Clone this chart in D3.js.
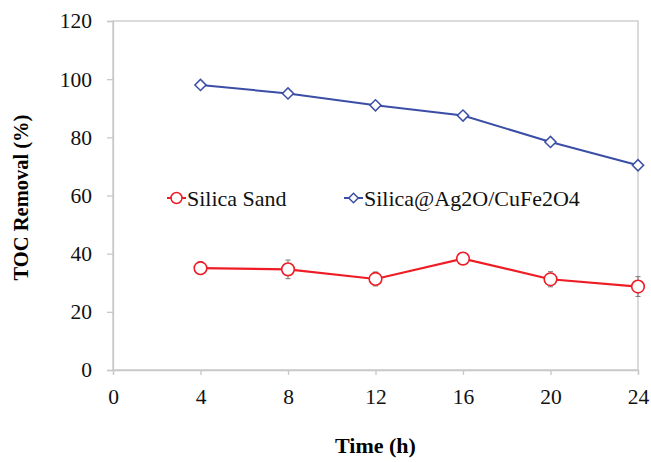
<!DOCTYPE html>
<html>
<head>
<meta charset="utf-8">
<script src="https://cdn.jsdelivr.net/npm/d3@7"></script>
<style>
  body { margin: 0; background: #fff; }
  text { font-family: "Liberation Serif", "Times New Roman", serif; }
</style>
</head>
<body>
<div id="chart"></div>
<script>
// data
const times = [4, 8, 12, 16, 20, 24];
const sandValues = [35.0, 34.6, 31.3, 38.3, 31.2, 28.7];
const sandErrors = [2.2, 3.2, 2.4, 1.0, 2.6, 3.4];
const compositeValues = [98.0, 95.1, 91.0, 87.5, 78.4, 70.4];
const xTicks = [0, 4, 8, 12, 16, 20, 24];
const yTicks = [0, 20, 40, 60, 80, 100, 120];
const seriesNames = ["Silica Sand", "Silica@Ag2O/CuFe2O4"];

const width = 651, height = 462;
const margin = { top: 21, right: 13, bottom: 92, left: 113 };
const red = "#ee1c25", blue = "#3b4ea6", gridGrey = "#c8c8c8";

const svg = d3.select("#chart").append("svg")
  .attr("width", width)
  .attr("height", height);

const x = d3.scaleLinear().domain([0, 24]).range([margin.left, width - margin.right]);
const y = d3.scaleLinear().domain([0, 120]).range([height - margin.bottom, margin.top]);

// Frame
svg.append("rect")
  .attr("x", x(0)).attr("y", y(120))
  .attr("width", x(24) - x(0)).attr("height", y(0) - y(120))
  .attr("fill", "none").attr("stroke", gridGrey).attr("stroke-width", 1.3);

// Axes
const xAxis = svg.append("g")
  .attr("transform", `translate(0,${y(0)})`)
  .call(d3.axisBottom(x).tickValues(xTicks).tickSize(5).tickPadding(14));
const yAxis = svg.append("g")
  .attr("transform", `translate(${x(0)},0)`)
  .call(d3.axisLeft(y).tickValues(yTicks).tickSize(6).tickPadding(15));

[xAxis, yAxis].forEach(a => {
  a.select(".domain").attr("stroke", gridGrey).attr("stroke-width", 1.3);
  a.selectAll(".tick line").attr("stroke", gridGrey).attr("stroke-width", 1.3);
  a.selectAll(".tick text")
    .style("font-family", "'Liberation Serif', serif")
    .style("font-size", "21.5px")
    .attr("fill", "#111");
});

// Axis titles
svg.append("text")
  .attr("x", (x(0) + x(24)) / 2).attr("y", 453)
  .attr("text-anchor", "middle")
  .style("font-size", "22px").style("font-weight", "bold")
  .text("Time (h)");
svg.append("text")
  .attr("transform", "translate(28,197.5) rotate(-90)")
  .attr("text-anchor", "middle")
  .style("font-size", "20.5px").style("font-weight", "bold")
  .text("TOC Removal (%)");

const line = d3.line().x(d => x(d[0])).y(d => y(d[1]));

// Composite series
const comp = times.map((t, i) => [t, compositeValues[i]]);
svg.append("path").attr("d", line(comp))
  .attr("fill", "none").attr("stroke", blue).attr("stroke-width", 2);
svg.selectAll(".comp-pt").data(comp).enter().append("path")
  .attr("transform", d => `translate(${x(d[0])},${y(d[1])}) rotate(45)`)
  .attr("d", d3.symbol().type(d3.symbolSquare).size(62)())
  .attr("fill", "#fff").attr("stroke", blue).attr("stroke-width", 1.5);

// Sand series with error bars
const sand = times.map((t, i) => [t, sandValues[i], sandErrors[i]]);
const eb = svg.selectAll(".err").data(sand).enter().append("g").attr("class", "err");
eb.append("line")
  .attr("x1", d => x(d[0])).attr("x2", d => x(d[0]))
  .attr("y1", d => y(d[1] - d[2])).attr("y2", d => y(d[1] + d[2]))
  .attr("stroke", "#777").attr("stroke-width", 1);
["-", "+"].forEach(s => {
  eb.append("line")
    .attr("x1", d => x(d[0]) - 2.5).attr("x2", d => x(d[0]) + 2.5)
    .attr("y1", d => y(s === "+" ? d[1] + d[2] : d[1] - d[2]))
    .attr("y2", d => y(s === "+" ? d[1] + d[2] : d[1] - d[2]))
    .attr("stroke", "#777").attr("stroke-width", 1);
});
svg.append("path").attr("d", line(sand))
  .attr("fill", "none").attr("stroke", red).attr("stroke-width", 2.2);
svg.selectAll(".sand-pt").data(sand).enter().append("circle")
  .attr("cx", d => x(d[0])).attr("cy", d => y(d[1])).attr("r", 6.3)
  .attr("fill", "#fff").attr("stroke", red).attr("stroke-width", 1.6);

// Legend
const legendY = 198;
const legendItems = [
  { name: seriesNames[0], color: red, x0: 167, kind: "circle" },
  { name: seriesNames[1], color: blue, x0: 344, kind: "diamond" }
];
legendItems.forEach(it => {
  const g = svg.append("g");
  g.append("line").attr("x1", it.x0).attr("x2", it.x0 + 19)
    .attr("y1", legendY).attr("y2", legendY)
    .attr("stroke", it.color).attr("stroke-width", 2);
  if (it.kind === "circle") {
    g.append("circle").attr("cx", it.x0 + 9.5).attr("cy", legendY).attr("r", 5.5)
      .attr("fill", "#fff").attr("stroke", it.color).attr("stroke-width", 1.5);
  } else {
    g.append("path")
      .attr("transform", `translate(${it.x0 + 9.5},${legendY}) rotate(45)`)
      .attr("d", d3.symbol().type(d3.symbolSquare).size(45)())
      .attr("fill", "#fff").attr("stroke", it.color).attr("stroke-width", 1.5);
  }
  g.append("text").attr("x", it.x0 + 20).attr("y", legendY + 7.5)
    .style("font-size", "22px").attr("fill", "#111")
    .text(it.name);
});
</script>
</body>
</html>
